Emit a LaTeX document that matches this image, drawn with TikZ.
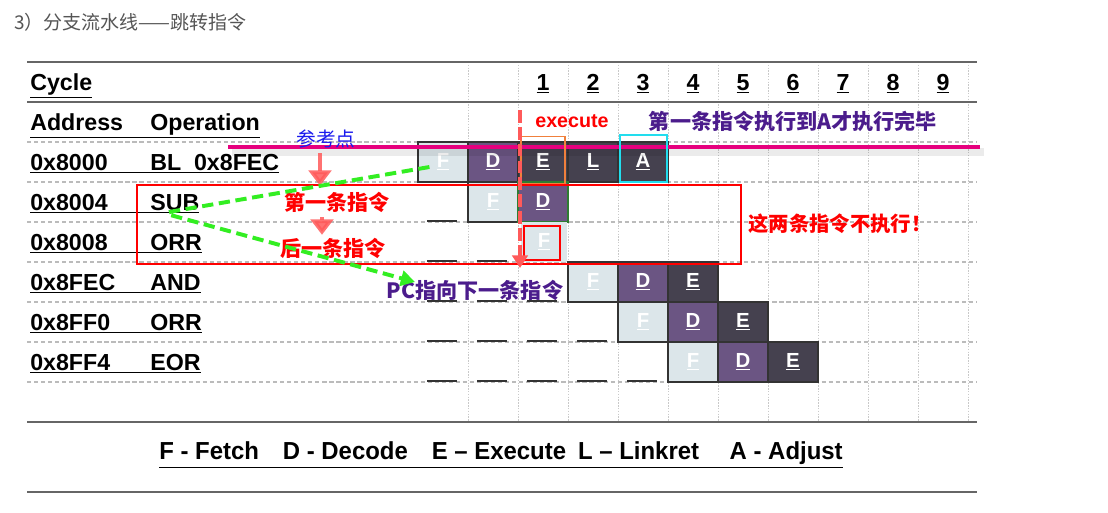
\documentclass[tikz,border=0pt]{standalone}
\usepackage{fontspec}
\setmainfont{Liberation Sans}
\newfontfamily\cjk{Noto Sans CJK SC}
\usetikzlibrary{arrows.meta,calc}

\definecolor{fetchc}{HTML}{DCE6EA}
\definecolor{decodec}{HTML}{6B5583}
\definecolor{execc}{HTML}{45414F}
\definecolor{gridc}{HTML}{BBBBBB}
\definecolor{rulec}{HTML}{666666}
\definecolor{refline}{HTML}{E6007E}
\definecolor{pcgreen}{HTML}{33EE22}
\definecolor{arrowred}{HTML}{FF5A5A}
\definecolor{indigoc}{HTML}{4B1C8C}
\definecolor{titlec}{HTML}{555555}
\definecolor{orangec}{HTML}{F0803C}
\definecolor{cyanc}{HTML}{22DDEE}
\definecolor{greenbd}{HTML}{2E7D32}
\definecolor{refblue}{HTML}{1A1AEE}

\tikzset{
  cell/.style={draw=black!80, line width=0.8pt, minimum width=1.25cm, minimum height=1cm,
    inner sep=0pt, text=white, font=\bfseries\fontsize{14.5pt}{16pt}\selectfont},
  fcell/.style={cell, fill=fetchc},
  dcell/.style={cell, fill=decodec},
  ecell/.style={cell, fill=execc},
  rowtext/.style={anchor=base west, inner sep=0pt, font=\bfseries\fontsize{16.5pt}{18pt}\selectfont},
  numtext/.style={anchor=base, inner sep=0pt, font=\bfseries\fontsize{16.5pt}{18pt}\selectfont},
  rowsep/.style={gridc, line width=0.8pt, dash pattern=on 3pt off 2pt},
  colsep/.style={gridc!80, line width=0.6pt, dash pattern=on 1pt off 1pt},
  rulel/.style={rulec, line width=1.1pt},
  blankline/.style={black!80, line width=1.1pt},
  redlabel/.style={text=red, font=\cjk\bfseries\fontsize{15pt}{17pt}\selectfont},
  purplelabel/.style={text=indigoc, font=\cjk\bfseries\fontsize{15pt}{17pt}\selectfont},
  pinkarrow/.style={arrowred, opacity=0.85, line width=3.5pt, -{Triangle[length=11pt,width=16pt]}},
  pcarrow/.style={pcgreen, line width=2.8pt, dash pattern=on 8pt off 4pt, rounded corners=6pt,
    -{Triangle[length=10pt,width=11pt]}},
}

\begin{document}
\begin{tikzpicture}[x=0.025cm, y=-0.025cm]
  \useasboundingbox (0,0) rectangle (1108,512);
  \fill[white] (0,0) rectangle (1108,512);

  % title
  \node[anchor=west, inner sep=0pt, text=titlec, font=\cjk\fontsize{13.5pt}{15pt}\selectfont]
    (title) at (14,22) {3）分支流水线——跳转指令};

  % table grid
  \foreach \y in {142,182,...,382}
    \draw[rowsep] (27,\y) -- (977,\y);
  \foreach \x in {468,518,...,968}
    \draw[colsep] (\x,62) -- (\x,422);
  \foreach \y in {62,102,422,492}
    \draw[rulel] (27,\y) -- (977,\y);

  % header rows
  \node[rowtext] (cyc) at (30,90) {\underline{Cycle}};
  \foreach \n in {1,...,9}
    \node[numtext] (c\n) at (493+50*\n,90) {\underline{\n}};
  \node[rowtext] (hdr) at (30,130) {\underline{\makebox[3cm][l]{Address}Operation}};

  % instructions
  \node[rowtext] (r0) at (30,170) {\underline{\makebox[3cm][l]{0x8000}BL\ \ 0x8FEC}};
  \node[rowtext] (r1) at (30,210) {\underline{\makebox[3cm][l]{0x8004}SUB}};
  \node[rowtext] (r2) at (30,250) {\underline{\makebox[3cm][l]{0x8008}ORR}};
  \node[rowtext] (r3) at (30,290) {\underline{\makebox[3cm][l]{0x8FEC}AND}};
  \node[rowtext] (r4) at (30,330) {\underline{\makebox[3cm][l]{0x8FF0}ORR}};
  \node[rowtext] (r5) at (30,370) {\underline{\makebox[3cm][l]{0x8FF4}EOR}};

  % empty cycles
  \foreach \y/\n in {222/0,262/1,302/2,342/3,382/4}
    \foreach \c in {0,...,\n}
      \draw[blankline] (427+50*\c,\y-1) -- ++(30,0);

  % pipeline stages
  \node[fcell] (f0) at (443,162) {\underline{F}};
  \node[dcell] (d0) at (493,162) {\underline{D}};
  \node[ecell] (e0) at (543,162) {\underline{E}};
  \node[ecell] (l0) at (593,162) {\underline{L}};
  \node[ecell] (a0) at (643,162) {\underline{A}};

  \node[fcell] (f1) at (493,202) {\underline{F}};
  \node[dcell, draw=greenbd, line width=1.2pt] (d1) at (543,202) {\underline{D}};

  \node[fcell, draw=none, minimum width=1.15cm] (f2) at (544,242) {\underline{F}};
  \node[draw=red, line width=1.2pt, minimum width=0.9cm, minimum height=0.85cm] (f2box) at (542,243) {};

  \node[fcell] (f3) at (593,282) {\underline{F}};
  \node[dcell] (d3) at (643,282) {\underline{D}};
  \node[ecell] (e3) at (693,282) {\underline{E}};

  \node[fcell] (f4) at (643,322) {\underline{F}};
  \node[dcell] (d4) at (693,322) {\underline{D}};
  \node[ecell] (e4) at (743,322) {\underline{E}};

  \node[fcell] (f5) at (693,362) {\underline{F}};
  \node[dcell] (d5) at (743,362) {\underline{D}};
  \node[ecell] (e5) at (793,362) {\underline{E}};

  % reference line
  \coordinate (refl) at (228,147);
  \coordinate (refr) at (980,147);
  \draw[black, opacity=0.08, line width=5pt] ($(refl)+(4,5)$) -- ($(refr)+(4,5)$);
  \draw[refline, line width=3pt] (refl) -- (refr);

  \node[draw=orangec, line width=1.1pt, minimum width=1.1cm, minimum height=1.17cm] (exebox) at (543,160) {};
  \node[draw=cyanc, line width=1.1pt, minimum width=1.175cm, minimum height=1.175cm] (adjbox) at (643.5,158.5) {};

  % skipped instructions
  \node[draw=red, line width=1.4pt, minimum width=15.1cm, minimum height=1.975cm] (skipbox) at (439,224.5) {};
  \node[redlabel, font=\cjk\bfseries\fontsize{14.5pt}{16pt}\selectfont] (skip) at (840,224) {这两条指令不执行！};

  % labels
  \node[text=refblue, font=\cjk\fontsize{14pt}{16pt}\selectfont] (ref) at (326,139) {参考点};
  \node[redlabel] (first) at (337,202) {第一条指令};
  \node[redlabel] (next) at (333,248) {后一条指令};
  \node[purplelabel] (pc) at (475,290) {PC指向下一条指令};
  \node[purplelabel] (note) at (793,121) {第一条指令执行到A才执行完毕};
  \node[text=red, font=\bfseries\fontsize{14pt}{16pt}\selectfont] (exe) at (572,121) {execute};

  % arrows
  \draw[pinkarrow] ($(ref.south)+(-6,0)$) -- ($(first.north)+(-17,-1)$);
  \draw[pinkarrow] ($(first.south)+(-15,0)$) -- ($(next.north)+(-11,2)$);

  \coordinate (exetop) at (520,110);
  \coordinate (exebot) at (520,268);
  \draw[arrowred, line width=2.8pt, dash pattern=on 9pt off 3pt, -{Triangle[length=9pt,width=11pt]}]
    (exetop) -- (exebot);

  \coordinate (turn) at (163,213);
  \draw[pcarrow] ($(f0.west)+(12,5)$) -- (turn) -- ($(pc.west)+(33,-8)$);

  % legend
  \node (legend) at (501,455) {\resizebox{17.08cm}{\height}{\bfseries\fontsize{17.5pt}{19pt}\selectfont
    \underline{F - Fetch\quad D - Decode\quad E -- Execute\enspace L -- Linkret\quad\ A - Adjust}}};
\end{tikzpicture}
\end{document}
